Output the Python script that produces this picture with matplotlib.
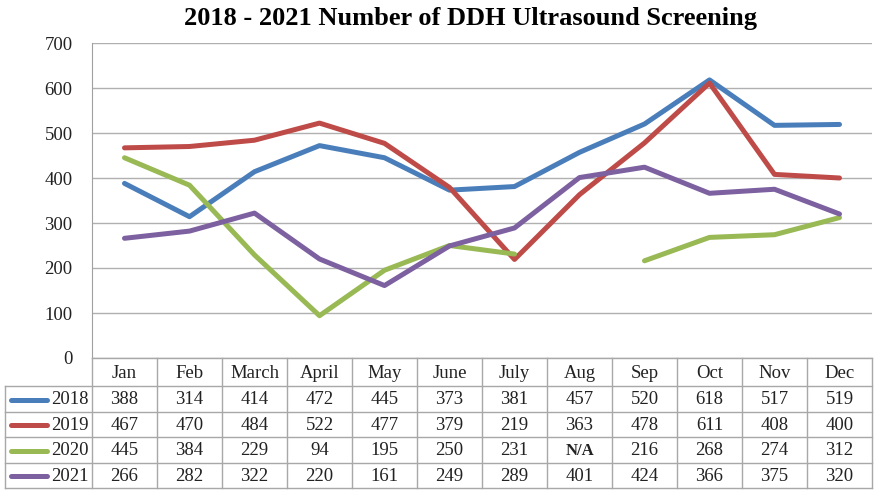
import matplotlib.pyplot as plt
import numpy as np

months = ["Jan", "Feb", "March", "April", "May", "June", "July",
          "Aug", "Sep", "Oct", "Nov", "Dec"]
years = ["2018", "2019", "2020", "2021"]

s2018 = [388, 314, 414, 472, 445, 373, 381, 457, 520, 618, 517, 519]
s2019 = [467, 470, 484, 522, 477, 379, 219, 363, 478, 611, 408, 400]
s2020 = [445, 384, 229, 94, 195, 250, 231, np.nan, 216, 268, 274, 312]
s2021 = [266, 282, 322, 220, 161, 249, 289, 401, 424, 366, 375, 320]
series = [s2018, s2019, s2020, s2021]
colors = ["#4a7ebb", "#be4b48", "#98b954", "#7d60a0"]

plt.rcParams['font.family'] = ['Liberation Serif', 'DejaVu Serif']

W, H = 874, 490
fig = plt.figure(figsize=(W / 100, H / 100), dpi=100)

# plot area in pixels
left, right, top, bottom = 92, 872, 43, 358
ax = fig.add_axes([left / W, 1 - bottom / H, (right - left) / W, (bottom - top) / H])
x = np.arange(len(months))
for s, c in zip(series, colors):
    ax.plot(x, s, color=c, lw=3.6, solid_capstyle='round', solid_joinstyle='round')

ax.set_xlim(-0.5, 11.5)
ax.set_ylim(0, 700)
ax.set_yticks(range(0, 701, 100))
ax.set_xticks([])
ax.yaxis.grid(True, color="#b0b0b0", lw=1)
ax.set_axisbelow(True)
ax.tick_params(axis='y', length=0, pad=14, labelsize=13.5, labelcolor="#222222")
for side in ["top", "right", "bottom"]:
    ax.spines[side].set_visible(False)
ax.spines["left"].set_color("#a0a0a0")

fig.text(471 / W, 1 - 19 / H, "2018 - 2021 Number of DDH Ultrasound Screening",
         ha='center', va='center', fontsize=19, fontweight='bold')

# data table drawn in pixel coordinates
tab = fig.add_axes([0, 0, 1, 1])
tab.set_xlim(0, W)
tab.set_ylim(H, 0)
tab.axis('off')
tab.patch.set_alpha(0)

col_w = (right - left) / len(months)
label_left = 5
row_tops = [bottom, 386, 411.5, 437, 462.5, 488]
line_kw = dict(color="#a8a8a8", lw=1)

# horizontal lines
tab.plot([left, right], [row_tops[0], row_tops[0]], **line_kw)
for yv in row_tops[1:]:
    tab.plot([label_left, right], [yv, yv], **line_kw)
# vertical lines
for i in range(len(months) + 1):
    xv = left + i * col_w
    tab.plot([xv, xv], [row_tops[0], row_tops[-1]], **line_kw)
tab.plot([label_left, label_left], [row_tops[1], row_tops[-1]], **line_kw)

for i, m in enumerate(months):
    cx = left + (i + 0.5) * col_w
    tab.text(cx, (row_tops[0] + row_tops[1]) / 2 + 1, m, ha='center', va='center',
             fontsize=13.5, color="#222222")

for r, (yr, s, c) in enumerate(zip(years, series, colors)):
    cy = (row_tops[r + 1] + row_tops[r + 2]) / 2 + 1
    tab.plot([11, 47], [cy, cy], color=c, lw=3.6, solid_capstyle='round')
    tab.text(left - 3, cy, yr, ha='right', va='center', fontsize=13.5, color="#222222")
    for i, v in enumerate(s):
        cx = left + (i + 0.5) * col_w
        if np.isnan(v):
            tab.text(cx, cy, "N/A", ha='center', va='center', fontsize=12,
                     fontweight='bold', color="#222222")
        else:
            tab.text(cx, cy, str(int(v)), ha='center', va='center', fontsize=13.5,
                     color="#222222")

fig.savefig("out.png", dpi=100)
